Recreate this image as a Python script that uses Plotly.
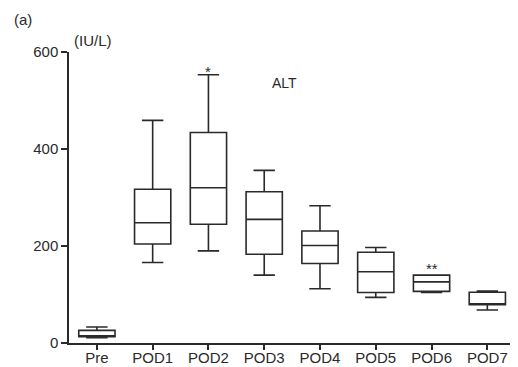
import plotly.graph_objects as go

categories = ["Pre", "POD1", "POD2", "POD3", "POD4", "POD5", "POD6", "POD7"]
lower_fence = [11, 166, 190, 140, 112, 94, 104, 68]
q1_vals = [13, 204, 245, 183, 164, 104, 106.5, 79]
median_vals = [15, 248, 320, 255, 201, 147, 126, 80.5]
q3_vals = [26, 317, 434, 312, 231, 187, 140, 104.5]
upper_fence = [33, 459, 553, 356, 283, 197, 140, 107]
y_ticks = [0, 200, 400, 600]

sig_labels = {"POD2": ("*", 539), "POD6": ("**", 131)}

font_family = "Liberation Sans, Arial, sans-serif"
ink = "#2a2a2a"

fig = go.Figure()
fig.add_trace(go.Box(
    x=categories,
    q1=q1_vals,
    median=median_vals,
    q3=q3_vals,
    lowerfence=lower_fence,
    upperfence=upper_fence,
    width=0.65,
    whiskerwidth=0.59,
    fillcolor="white",
    line=dict(color=ink, width=1.6),
    boxpoints=False,
    showlegend=False,
    hoverinfo="skip",
))

annotations = []
for cat, (txt, yv) in sig_labels.items():
    annotations.append(dict(x=cat, y=yv, xref="x", yref="y", text=txt, showarrow=False,
                            font=dict(size=15, color=ink, family=font_family),
                            xanchor="center", yanchor="bottom"))
annotations += [
    dict(x=0.481, y=0.893, xref="paper", yref="paper", text="ALT", showarrow=False,
         font=dict(size=14, color=ink, family=font_family), xanchor="center", yanchor="middle"),
    dict(x=0.007, y=1.038, xref="paper", yref="paper", text="(IU/L)", showarrow=False,
         font=dict(size=15, color=ink, family=font_family), xanchor="left", yanchor="middle"),
    dict(x=-0.127, y=1.11, xref="paper", yref="paper", text="(a)", showarrow=False,
         font=dict(size=15, color=ink, family=font_family), xanchor="left", yanchor="middle"),
]

# page body adds an 8px offset; the figure is sized so that the plot area lands in place
fig.update_layout(
    width=510, height=359,
    margin=dict(l=61, r=0, t=44, b=24, autoexpand=False),
    paper_bgcolor="white", plot_bgcolor="white",
    font=dict(family=font_family, size=15, color=ink),
    annotations=annotations,
)
fig.update_xaxes(
    type="category", range=[-0.5, 7.55], showgrid=False, zeroline=False,
    showline=True, linecolor=ink, linewidth=1.5, automargin=False,
    ticks="outside", ticklen=5, tickwidth=1.5, tickcolor=ink,
    ticklabelstandoff=-5,
    tickfont=dict(size=15, color=ink),
)
fig.update_yaxes(
    range=[0, 600], tickvals=y_ticks, showgrid=False, zeroline=False,
    showline=True, linecolor=ink, linewidth=1.5, automargin=False,
    ticks="outside", ticklen=6, tickwidth=1.5, tickcolor=ink,
    tickfont=dict(size=15, color=ink),
)

fig.write_html("out.html")
